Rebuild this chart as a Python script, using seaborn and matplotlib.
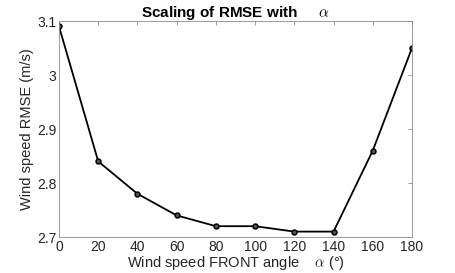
import pandas as pd
import matplotlib
matplotlib.use("Agg")
import matplotlib.pyplot as plt
import seaborn as sns

# values
angle = [0, 20, 40, 60, 80, 100, 120, 140, 160, 180]
rmse = [3.09, 2.84, 2.78, 2.74, 2.72, 2.72, 2.71, 2.71, 2.86, 3.05]
xticks = [0, 20, 40, 60, 80, 100, 120, 140, 160, 180]
yticks = [2.7, 2.8, 2.9, 3.0, 3.1]
ytick_labels = ["2.7", "2.8", "2.9", "3", "3.1"]

df = pd.DataFrame({"angle": angle, "rmse": rmse})

sns.set_style("white")
plt.rcParams["font.family"] = ["Liberation Sans", "DejaVu Sans"]
plt.rcParams["mathtext.fontset"] = "cm"

fig = plt.figure(figsize=(4.56, 2.73), dpi=100)
ax = fig.add_axes([59 / 456, 36 / 273, 353 / 456, 216 / 273])

sns.lineplot(data=df, x="angle", y="rmse", ax=ax, color="black", linewidth=1.3,
             marker="o", markersize=3.5, markerfacecolor="#555555",
             markeredgecolor="black", markeredgewidth=1.1)

ax.set_xlim(0, 180)
ax.set_ylim(2.7, 3.1)
ax.set_xticks(xticks)
ax.set_yticks(yticks)
ax.set_yticklabels(ytick_labels)

for s in ax.spines.values():
    s.set_color("#8c8c8c")
    s.set_linewidth(0.6)
ax.tick_params(direction="in", length=3, width=0.6, color="#8c8c8c",
               labelsize=10, labelcolor="#262626", top=True, right=True, pad=2)

ax.set_title(r"Scaling of RMSE with     $\alpha$", fontsize=11, fontweight="bold",
             color="black", pad=3)
ax.set_xlabel(r"Wind speed FRONT angle    $\alpha$ (°)", fontsize=10.5, color="#262626", labelpad=0)
ax.set_ylabel("Wind speed RMSE (m/s)", fontsize=10.5, color="#262626", labelpad=2)

fig.savefig("out.png", dpi=100)
